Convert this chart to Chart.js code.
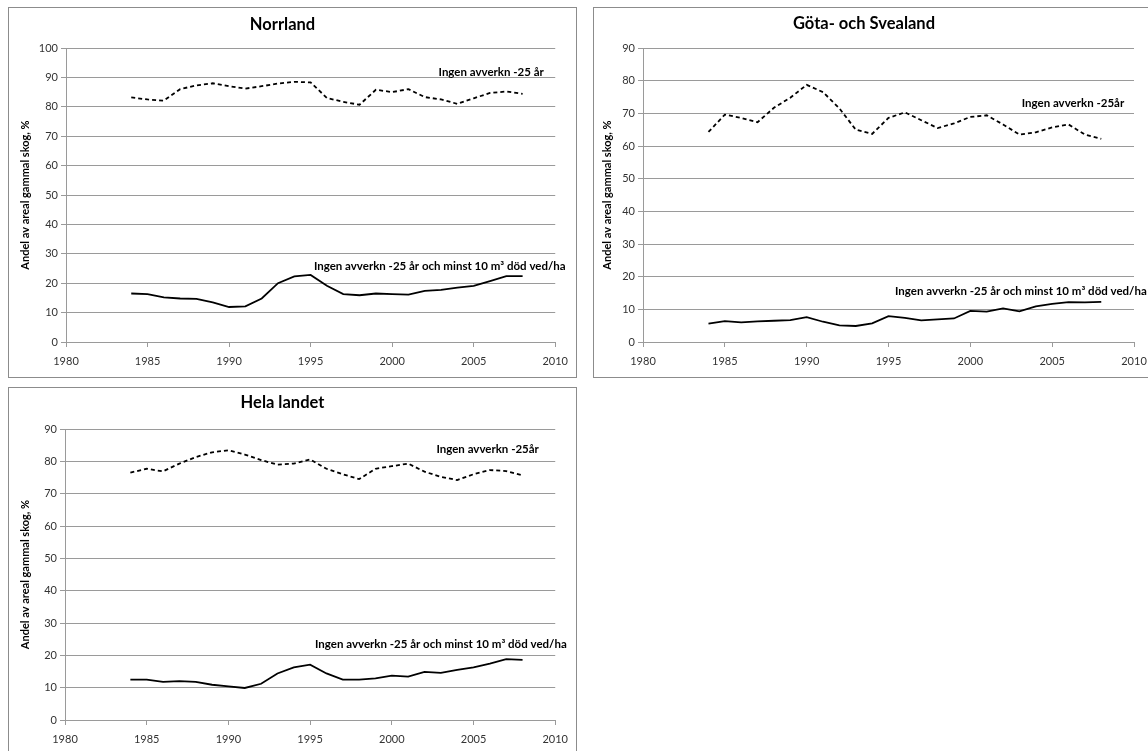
<!DOCTYPE html>
<html>
<head>
<meta charset="utf-8">
<script src="https://cdn.jsdelivr.net/npm/chart.js@4"></script>
<style>
  body { margin: 0; width: 1148px; height: 751px; overflow: hidden; background: #fff; position: relative; }
  .box { position: absolute; border: 1px solid #8c8c8c; box-sizing: border-box; background: #fff; }
  .box canvas { display: block; }
</style>
</head>
<body>
<div class="box" style="left:8px;top:7px;width:569px;height:371px"><canvas id="norrland" width="567" height="369"></canvas></div>
<div class="box" style="left:593px;top:7px;width:569px;height:371px"><canvas id="gota" width="567" height="369"></canvas></div>
<div class="box" style="left:8px;top:387px;width:569px;height:371px"><canvas id="hela" width="567" height="369"></canvas></div>
<script>
const years = [1984, 1985, 1986, 1987, 1988, 1989, 1990, 1991, 1992, 1993, 1994, 1995, 1996,
  1997, 1998, 1999, 2000, 2001, 2002, 2003, 2004, 2005, 2006, 2007, 2008];

const norrlandIngen = [83.2, 82.5, 82.1, 86.0, 87.3, 88.0, 87.0, 86.2, 87.0, 87.9, 88.5, 88.3, 83.0,
  81.7, 80.7, 85.8, 85.0, 86.0, 83.3, 82.5, 81.0, 82.9, 84.7, 85.2, 84.4];
const norrlandDodVed = [16.5, 16.3, 15.2, 14.8, 14.7, 13.5, 11.9, 12.1, 14.8, 20.0, 22.3, 22.8, 19.1,
  16.3, 15.9, 16.5, 16.3, 16.1, 17.4, 17.7, 18.5, 19.1, 20.7, 22.4, 22.4];

const gotaIngen = [64.3, 69.6, 68.6, 67.3, 71.7, 74.8, 78.7, 76.5, 71.5, 65.0, 63.7, 68.6, 70.3,
  67.9, 65.5, 66.9, 68.9, 69.4, 66.6, 63.5, 64.2, 65.7, 66.6, 63.5, 62.2];
const gotaDodVed = [5.6, 6.4, 6.0, 6.3, 6.5, 6.7, 7.6, 6.2, 5.1, 4.9, 5.7, 7.9, 7.4,
  6.6, 6.9, 7.2, 9.5, 9.3, 10.3, 9.4, 10.9, 11.7, 12.2, 12.1, 12.3];

const helaIngen = [76.5, 77.7, 76.9, 79.3, 81.3, 82.8, 83.4, 82.1, 80.4, 79.0, 79.3, 80.6, 77.7,
  76.0, 74.5, 77.7, 78.5, 79.3, 76.8, 75.2, 74.2, 76.0, 77.3, 77.0, 75.7];
const helaDodVed = [12.5, 12.5, 11.8, 12.0, 11.8, 10.9, 10.4, 9.9, 11.2, 14.4, 16.3, 17.1, 14.4,
  12.5, 12.5, 12.9, 13.7, 13.4, 14.9, 14.6, 15.5, 16.3, 17.4, 18.8, 18.6];

const xTicks = [1980, 1985, 1990, 1995, 2000, 2005, 2010];

const FONT = "Lato, 'Open Sans', sans-serif";
const GRID = "#9a9a9a";

// text labels next to the lines, placed in data coordinates
const lineLabels = {
  id: "lineLabels",
  afterDatasetsDraw(chart, args, opts) {
    const { ctx, scales: { x, y } } = chart;
    ctx.save();
    ctx.font = "bold 11.5px " + FONT;
    ctx.fillStyle = "#000";
    ctx.textBaseline = "middle";
    for (const l of opts.items) {
      ctx.textAlign = l.align;
      ctx.fillText(l.text, x.getPixelForValue(l.x), y.getPixelForValue(l.y));
    }
    ctx.restore();
  },
};

function makeChart(id, title, ingen, dodVed, yMax, lay) {
  return new Chart(document.getElementById(id), {
    type: "line",
    data: {
      datasets: [
        {
          label: "Ingen avverkn -25 år",
          data: years.map((yr, i) => ({ x: yr, y: ingen[i] })),
          borderColor: "#000",
          borderWidth: 1.8,
          borderDash: [4, 3],
          pointRadius: 0,
        },
        {
          label: "Ingen avverkn -25 år och minst 10 m³ död ved/ha",
          data: years.map((yr, i) => ({ x: yr, y: dodVed[i] })),
          borderColor: "#000",
          borderWidth: 1.8,
          pointRadius: 0,
        },
      ],
    },
    options: {
      responsive: false,
      animation: false,
      layout: { padding: { left: 0, right: lay.right, top: 0, bottom: 0 } },
      plugins: {
        legend: { display: false },
        tooltip: { enabled: false },
        title: {
          display: true,
          text: title,
          color: "#000",
          font: { family: FONT, size: 16.5, weight: "bold" },
          padding: { top: lay.titleTop, bottom: lay.titleBottom },
        },
        lineLabels: { items: lay.labels },
      },
      scales: {
        x: {
          type: "linear",
          min: 1980,
          max: 2010,
          afterBuildTicks: (s) => { s.ticks = xTicks.map((v) => ({ value: v })); },
          afterFit: (s) => { s.height = lay.xHeight; },
          ticks: {
            color: "#333",
            font: { family: FONT, size: 11 },
            padding: 8,
            maxRotation: 0,
            callback: (v) => String(v),
          },
          grid: { drawOnChartArea: false, color: GRID, tickLength: 5 },
          border: { color: GRID },
        },
        y: {
          min: 0,
          max: yMax,
          afterFit: (s) => { s.width = lay.yWidth; },
          ticks: { stepSize: 10, color: "#333", font: { family: FONT, size: 11 }, padding: 3 },
          grid: { color: GRID, tickLength: 5 },
          border: { color: GRID },
          title: {
            display: true,
            text: "Andel av areal gammal skog, %",
            color: "#000",
            font: { family: FONT, size: 11, weight: "bold" },
            padding: { top: lay.yTitlePad, bottom: 0 },
          },
        },
      },
    },
    plugins: [lineLabels],
  });
}

makeChart("norrland", "Norrland", norrlandIngen, norrlandDodVed, 100, {
  right: 20, yWidth: 57, xHeight: 35, titleTop: 7, titleBottom: 13.2, yTitlePad: 9.4,
  labels: [
    { text: "Ingen avverkn -25 år", x: 2009.3, y: 91.8, align: "right" },
    { text: "Ingen avverkn -25 år och minst 10 m³ död ved/ha", x: 1995.2, y: 25.6, align: "left" },
  ],
});

makeChart("gota", "Göta- och Svealand", gotaIngen, gotaDodVed, 90, {
  right: 27, yWidth: 49, xHeight: 35, titleTop: 6, titleBottom: 14.2, yTitlePad: 6.4,
  labels: [
    { text: "Ingen avverkn -25år", x: 2009.4, y: 73.1, align: "right" },
    { text: "Ingen avverkn -25 år och minst 10 m³ död ved/ha", x: 1995.4, y: 15.4, align: "left" },
  ],
});

makeChart("hela", "Hela landet", helaIngen, helaDodVed, 90, {
  right: 20, yWidth: 56, xHeight: 37, titleTop: 5, titleBottom: 16.2, yTitlePad: 9.4,
  labels: [
    { text: "Ingen avverkn -25år", x: 2009.0, y: 83.8, align: "right" },
    { text: "Ingen avverkn -25 år och minst 10 m³ död ved/ha", x: 1995.3, y: 23.5, align: "left" },
  ],
});
</script>
</body>
</html>
